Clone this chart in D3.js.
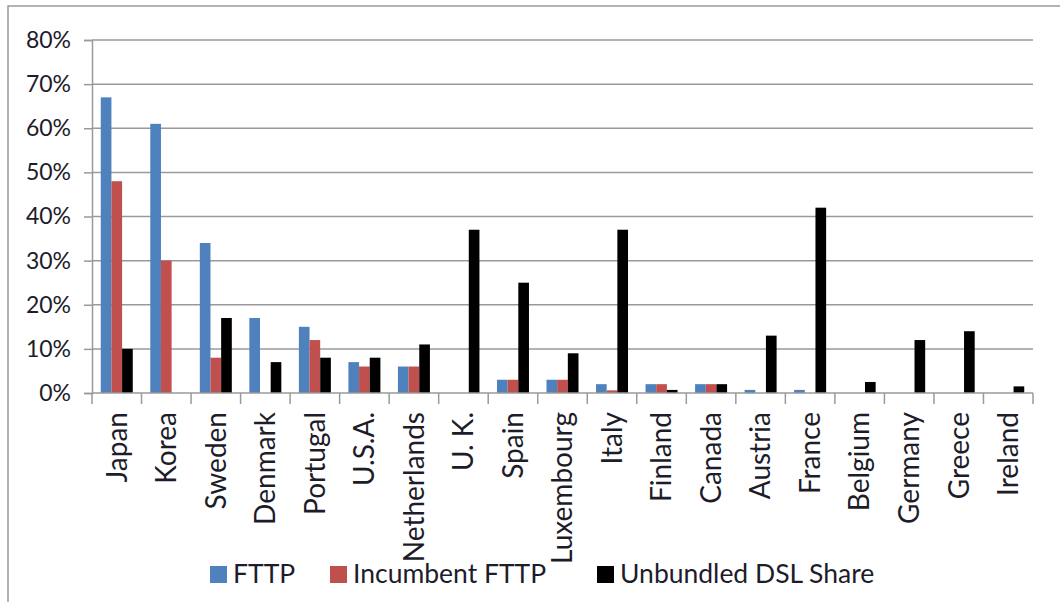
<!DOCTYPE html>
<html>
<head>
<meta charset="utf-8">
<script src="https://cdn.jsdelivr.net/npm/d3@7"></script>
<style>
  html, body { margin: 0; padding: 0; background: #fff; }
  svg { display: block; }
  text { font-family: Lato, "Open Sans", sans-serif; fill: #1c1c2a; }
</style>
</head>
<body>
<svg id="chart" width="1060" height="602"></svg>
<script>
// Countries, in the order shown on the x axis
const countries = ["Japan", "Korea", "Sweden", "Denmark", "Portugal", "U.S.A.", "Netherlands",
  "U. K.", "Spain", "Luxembourg", "Italy", "Finland", "Canada", "Austria", "France",
  "Belgium", "Germany", "Greece", "Ireland"];

// Shares (percent)
const fttp          = [67, 61, 34, 17, 15, 7, 6, 0, 3, 3, 2, 2, 2, 0.7, 0.7, 0, 0, 0, 0];
const incumbentFttp = [48, 30, 8, 0, 12, 6, 6, 0, 3, 3, 0.6, 2, 2, 0, 0, 0, 0, 0, 0];
const unbundledDsl  = [10, 0, 17, 7, 8, 8, 11, 37, 25, 9, 37, 0.7, 2, 13, 42, 2.5, 12, 14, 1.5];

const seriesNames  = ["FTTP", "Incumbent FTTP", "Unbundled DSL Share"];
const seriesColors = ["#4f81bd", "#c0504d", "#000000"];
const yTicks = [0, 10, 20, 30, 40, 50, 60, 70, 80];

const series = [fttp, incumbentFttp, unbundledDsl];

const svg = d3.select("#chart");
const plotLeft = 92, plotRight = 1033, plotTop = 40, plotBottom = 393;
const gridColor = "#9a9a9a";

// outer frame (left and top edges)
svg.append("path")
  .attr("d", "M8,602 L8,6 L1060,6")
  .attr("fill", "none").attr("stroke", "#9a9a9a").attr("stroke-width", 1.5);

const x = d3.scaleBand().domain(countries).range([plotLeft, plotRight]).padding(0);
const step = x.step();
const xs = d3.scaleBand().domain(d3.range(3))
  .range([step * 0.177, step * 0.823]).padding(0);
const y = d3.scaleLinear().domain([0, 80]).range([plotBottom, plotTop]);

// gridlines
svg.append("g").selectAll("line").data(yTicks.filter(t => t > 0)).join("line")
  .attr("x1", plotLeft).attr("x2", plotRight)
  .attr("y1", d => y(d)).attr("y2", d => y(d))
  .attr("stroke", gridColor).attr("stroke-width", 1.5);

// y axis
const yAxis = svg.append("g").attr("transform", `translate(${plotLeft},0)`)
  .call(d3.axisLeft(y).tickValues(yTicks).tickSize(8).tickPadding(13)
    .tickFormat(d => d + "%"));
yAxis.select(".domain").attr("stroke", gridColor).attr("stroke-width", 1.5);
yAxis.selectAll(".tick line").attr("stroke", gridColor).attr("stroke-width", 1.5);
yAxis.selectAll(".tick text").attr("font-size", 23).attr("font-family", "Lato")
  .attr("fill", "#1c1c2a");

// bars
const groups = svg.append("g").selectAll("g").data(countries).join("g")
  .attr("transform", d => `translate(${x(d)},0)`);
groups.selectAll("rect")
  .data((c, i) => series.map((s, k) => ({ k, v: s[i] })))
  .join("rect")
  .attr("x", d => xs(d.k))
  .attr("width", xs.bandwidth())
  .attr("y", d => y(d.v))
  .attr("height", d => y(0) - y(d.v))
  .attr("fill", d => seriesColors[d.k]);

// x axis
const xAxis = svg.append("g").attr("transform", `translate(0,${plotBottom})`)
  .call(d3.axisBottom(x).tickSize(0).tickPadding(0));
xAxis.select(".domain").remove();
xAxis.append("line").attr("x1", plotLeft).attr("x2", plotRight)
  .attr("stroke", gridColor).attr("stroke-width", 1.5);
xAxis.selectAll(".tick text")
  .attr("font-size", 28).attr("font-family", "Lato").attr("fill", "#1c1c2a")
  .attr("text-anchor", "end")
  .attr("transform", "translate(0,19) rotate(-90)")
  .attr("dx", 0).attr("dy", "0.35em").attr("x", 0).attr("y", 0);
// category boundary ticks
xAxis.append("g").selectAll("line")
  .data(countries.map(c => x(c)).concat([plotRight])).join("line")
  .attr("x1", d => d).attr("x2", d => d).attr("y1", 0).attr("y2", 11)
  .attr("stroke", gridColor).attr("stroke-width", 1.5);

// legend
const legendX = [210, 330, 597];
const legend = svg.append("g").selectAll("g").data(seriesNames).join("g")
  .attr("transform", (d, i) => `translate(${legendX[i]},566)`);
legend.append("rect").attr("width", 17).attr("height", 17)
  .attr("fill", (d, i) => seriesColors[i]);
legend.append("text").attr("x", 23).attr("y", 17)
  .attr("font-size", 26.5).attr("font-family", "Lato").attr("fill", "#1c1c2a")
  .text(d => d);
</script>
</body>
</html>
